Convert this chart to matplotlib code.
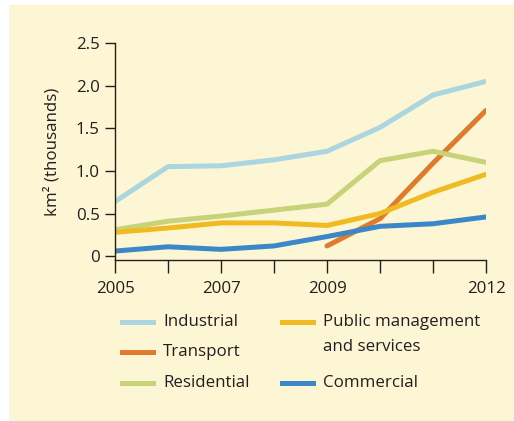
import matplotlib
matplotlib.use("Agg")
import matplotlib.pyplot as plt
from matplotlib.lines import Line2D
from matplotlib.patches import Rectangle

years = [2005, 2006, 2007, 2008, 2009, 2010, 2011, 2012]
industrial = [0.64, 1.05, 1.06, 1.13, 1.23, 1.51, 1.89, 2.05]
transport_years = [2009, 2010, 2011, 2012]
transport = [0.12, 0.44, 1.09, 1.71]
residential = [0.31, 0.41, 0.47, 0.54, 0.61, 1.12, 1.23, 1.10]
public = [0.28, 0.33, 0.39, 0.39, 0.36, 0.50, 0.75, 0.96]
commercial = [0.06, 0.11, 0.08, 0.12, 0.23, 0.35, 0.38, 0.46]

year_labels = ["2005", "", "2007", "", "2009", "", "", "2012"]
y_ticks = [0, 0.5, 1.0, 1.5, 2.0, 2.5]
y_labels = ["0", "0.5", "1.0", "1.5", "2.0", "2.5"]

bg = "#fdf6d4"
fs = 12.2
plt.rcParams["font.family"] = ["Open Sans", "DejaVu Sans"]

W, H = 514, 421
fig = plt.figure(figsize=(W / 100, H / 100), dpi=100, facecolor="white")
fig.patches.append(Rectangle((9 / W, 1 / H), 504 / W, 415 / H,
                             transform=fig.transFigure, color=bg, zorder=-5))

ax = fig.add_axes([115 / W, (H - 260) / H, 371 / W, 217 / H])
ax.patch.set_alpha(0)

lw = 3.6
l_tr, = ax.plot(transport_years, transport, color="#e07b2b", lw=lw,
                solid_capstyle="round", label="Transport")
l_in, = ax.plot(years, industrial, color="#abd5df", lw=lw,
                solid_capstyle="round", label="Industrial")
l_re, = ax.plot(years, residential, color="#c6d379", lw=lw,
                solid_capstyle="round", label="Residential")
l_pu, = ax.plot(years, public, color="#f0bb22", lw=lw,
                solid_capstyle="round", label="Public management\nand services")
l_co, = ax.plot(years, commercial, color="#3b87c9", lw=lw,
                solid_capstyle="round", label="Commercial")

ax.set_xlim(2005, 2012)
ax.set_ylim(-0.045, 2.5)
ax.set_xticks(years)
ax.set_xticklabels(year_labels)
ax.set_yticks(y_ticks)
ax.set_yticklabels(y_labels)
for s in ["top", "right"]:
    ax.spines[s].set_visible(False)
for s in ["left", "bottom"]:
    ax.spines[s].set_linewidth(1.0)
    ax.spines[s].set_color("#231f20")
ax.tick_params(axis="x", length=9, width=1.0, pad=6, labelsize=fs,
               colors="#231f20")
ax.tick_params(axis="y", length=7, width=1.0, pad=4, labelsize=fs,
               colors="#231f20")
ax.set_ylabel("km² (thousands)", fontsize=fs, color="#231f20")
ax.yaxis.set_label_coords(-0.148, 0.5)

# legend, laid out by hand in pixel positions
entries = [(l_in, 122, 322), (l_tr, 122, 352), (l_re, 122, 383),
           (l_pu, 282, 322), (l_co, 282, 383)]
for line, x0, yc in entries:
    yf = (H - yc) / H
    fig.add_artist(Line2D([x0 / W, (x0 + 31) / W], [yf, yf],
                          transform=fig.transFigure, color=line.get_color(),
                          lw=3.6))
    label = line.get_label()
    if "\n" in label:
        fig.text((x0 + 41) / W, (H - yc - 12.5) / H, label, fontsize=fs,
                 color="#231f20", va="center", linespacing=1.75)
    else:
        fig.text((x0 + 41) / W, yf, label, fontsize=fs,
                 color="#231f20", va="center")

fig.savefig("out.png", dpi=100, facecolor="white")
